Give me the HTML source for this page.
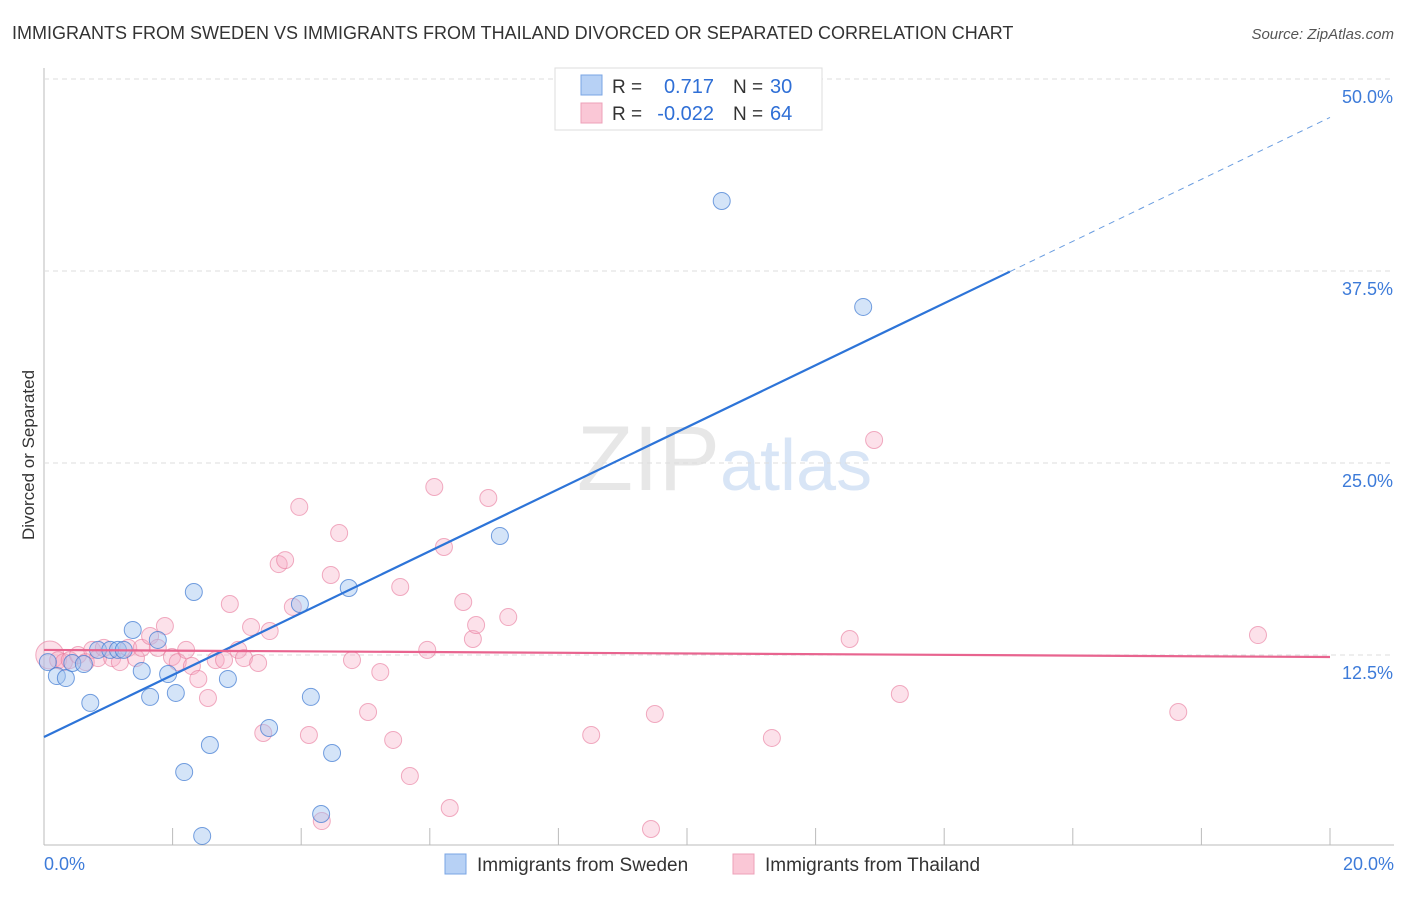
<!DOCTYPE html>
<html><head><meta charset="utf-8"><style>
body{margin:0;background:#fff;font-family:"Liberation Sans",sans-serif}
svg text{font-family:"Liberation Sans",sans-serif}
</style></head><body>
<svg id="chart" width="1406" height="892">
<text x="12" y="39" font-size="18" fill="#333">IMMIGRANTS FROM SWEDEN VS IMMIGRANTS FROM THAILAND DIVORCED OR SEPARATED CORRELATION CHART</text>
<text x="1394" y="39" font-size="15" fill="#555" font-style="italic" text-anchor="end">Source: ZipAtlas.com</text>
<text x="34" y="455" font-size="17" fill="#333" text-anchor="middle" transform="rotate(-90 34 455)">Divorced or Separated</text>
<text x="720" y="490" font-size="92" fill="#ccc" opacity="0.45" text-anchor="end" font-family="Liberation Serif">ZIP</text>
<text x="720" y="490" font-size="72" fill="#a9c6ec" opacity="0.45">atlas</text>
<g id="grid"></g><g id="pts"></g><g id="lines"></g>
<g>
<rect x="555" y="68" width="267" height="62" fill="#fff" stroke="#ddd"/>
<rect x="581" y="75" width="21" height="20" fill="#b7d1f5" stroke="#7aa5e4"/>
<rect x="581" y="103" width="21" height="20" fill="#fac7d6" stroke="#eda0b8"/>
<text x="612" y="93" font-size="19" fill="#333">R =</text><text x="714" y="93" font-size="20" fill="#2f6fd6" text-anchor="end">0.717</text>
<text x="733" y="93" font-size="19" fill="#333">N =</text><text x="770" y="93" font-size="20" fill="#2f6fd6">30</text>
<text x="612" y="120" font-size="19" fill="#333">R =</text><text x="714" y="120" font-size="20" fill="#2f6fd6" text-anchor="end">-0.022</text>
<text x="733" y="120" font-size="19" fill="#333">N =</text><text x="770" y="120" font-size="20" fill="#2f6fd6">64</text>
</g>
<g>
<rect x="445" y="854" width="21" height="20" fill="#b7d1f5" stroke="#7aa5e4"/>
<text x="477" y="871" font-size="19" fill="#333">Immigrants from Sweden</text>
<rect x="733" y="854" width="21" height="20" fill="#fac7d6" stroke="#eda0b8"/>
<text x="765" y="871" font-size="19" fill="#333">Immigrants from Thailand</text>
</g>
<text x="44" y="870" font-size="18" fill="#3d7bd9">0.0%</text>
<text x="1394" y="870" font-size="18" fill="#3d7bd9" text-anchor="end">20.0%</text>
</svg>
<script>
const yTicks=[12.5,25,37.5,50];
const yTickLabels=["12.5%","25.0%","37.5%","50.0%"];
const xTicks=[2,4,6,8,10,12,14,16,18,20];
const swedenX=[0.06,0.2,0.34,0.44,0.62,0.72,0.84,1.03,1.15,1.24,1.38,1.52,1.65,1.77,1.93,2.05,2.18,2.33,2.46,2.58,2.86,3.5,3.98,4.15,4.31,4.48,4.74,7.09,10.54,12.74];
const swedenY=[12.04,11.13,11.0,11.98,11.91,9.38,12.83,12.83,12.83,12.83,14.13,11.46,9.77,13.48,11.26,10.03,4.88,16.6,0.72,6.64,10.94,7.75,15.82,9.77,2.15,6.12,16.86,20.25,42.06,35.16];
const thaiX=[0.09,0.22,0.31,0.4,0.53,0.65,0.75,0.84,0.93,1.06,1.18,1.31,1.43,1.52,1.65,1.77,1.88,1.99,2.08,2.21,2.3,2.4,2.55,2.67,2.8,2.89,3.02,3.11,3.22,3.33,3.41,3.51,3.65,3.75,3.87,3.97,4.12,4.32,4.46,4.59,4.79,5.04,5.23,5.43,5.54,5.69,5.96,6.07,6.22,6.31,6.52,6.67,6.72,6.91,7.22,8.51,9.44,9.5,11.32,12.53,12.91,13.31,17.64,18.88];
const thaiY=[12.5,12.17,12.04,12.17,12.5,12.04,12.83,12.3,12.96,12.3,12.04,12.96,12.3,12.96,13.74,12.96,14.39,12.37,12.04,12.83,11.78,10.94,9.7,12.17,12.17,15.82,12.83,12.3,14.32,11.98,7.42,14.06,18.42,18.68,15.63,22.14,7.29,1.69,17.71,20.44,12.17,8.79,11.39,6.97,16.93,4.62,12.83,23.44,19.53,2.54,15.95,13.54,14.45,22.72,14.97,7.29,1.17,8.66,7.1,13.54,26.5,9.96,8.79,13.8];
const swedenTrend=[7.16,47.5];
const thaiTrend=[12.83,12.37];
const NS='http://www.w3.org/2000/svg';
const X=v=>44+v*64.3, Y=v=>847-v*15.36;
function mk(t,a,p){const e=document.createElementNS(NS,t);for(const k in a)e.setAttribute(k,a[k]);p.appendChild(e);return e;}
const grid=document.getElementById('grid'),pts=document.getElementById('pts'),lines=document.getElementById('lines');
let ax=mk('line',{x1:44,y1:68,x2:44,y2:845,stroke:'#bbb'},grid);


let bx=mk('line',{x1:44,y1:845,x2:1394,y2:845,stroke:'#bbb'},grid);


yTicks.forEach((v,i)=>{
 const g=mk('line',{x1:44,y1:Y(v),x2:1394,y2:Y(v),stroke:'#ddd','stroke-dasharray':'5,4'},grid);
 
 
 const t=mk('text',{x:1393,y:Y(v)+24,'font-size':18,fill:'#3d7bd9','text-anchor':'end'},grid);t.textContent=yTickLabels[i];
 
 
});
xTicks.forEach(v=>{
 const t=mk('line',{x1:X(v),y1:828,x2:X(v),y2:845,stroke:'#bbb'},grid);
 
 
});
thaiX.forEach((v,i)=>{
 const c=mk('circle',{cx:X(v),cy:Y(thaiY[i]),r:i==0?14:8.5,fill:'rgba(247,170,195,0.35)',stroke:'rgba(232,120,155,0.6)','stroke-width':1},pts);
 
 
});
swedenX.forEach((v,i)=>{
 const c=mk('circle',{cx:X(v),cy:Y(swedenY[i]),r:8.5,fill:'rgba(160,195,240,0.45)',stroke:'rgba(60,120,210,0.7)','stroke-width':1},pts);
 
 
});
const sy=x=>swedenTrend[0]+(swedenTrend[1]-swedenTrend[0])*x/20;
let l1=mk('line',{x1:X(0),y1:Y(sy(0)),x2:X(15.02),y2:Y(sy(15.02)),stroke:'#2d74d8','stroke-width':2.2},lines);


let l2=mk('line',{x1:X(15.02),y1:Y(sy(15.02)),x2:X(20),y2:Y(sy(20)),stroke:'#6a9de0','stroke-width':1,'stroke-dasharray':'6,5'},lines);


let l3=mk('line',{x1:X(0),y1:Y(thaiTrend[0]),x2:X(20),y2:Y(thaiTrend[1]),stroke:'#e8648f','stroke-width':2.2},lines);


</script>
</body></html>
